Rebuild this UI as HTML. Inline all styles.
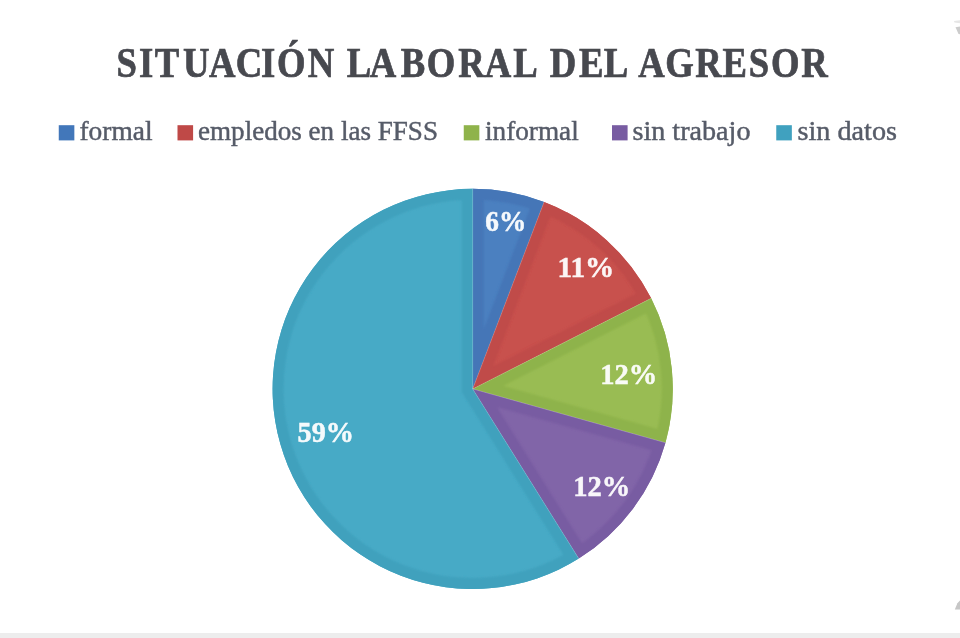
<!DOCTYPE html>
<html lang="es"><head><meta charset="utf-8"><title>Situación laboral del agresor</title>
<style>
html,body{margin:0;padding:0;background:#fff;}
body{width:960px;height:638px;overflow:hidden;position:relative;font-family:"Liberation Serif",serif;}
svg{position:absolute;left:0;top:0;display:block;}
.tt{font-family:"Liberation Serif",serif;font-weight:bold;font-size:41.7px;fill:#47484f;stroke:#47484f;stroke-width:0.7px;}
.lg{font-family:"Liberation Serif",serif;font-size:27.5px;fill:#565b68;stroke:#565b68;stroke-width:0.45px;}
.dl{font-family:"Liberation Serif",serif;font-weight:bold;font-size:28.5px;fill:#fff;stroke:#fff;stroke-width:0.5px;opacity:0.95;}
.bar{position:absolute;left:0;top:633px;width:960px;height:5px;background:#ededed;}
</style></head><body>
<svg width="960" height="638" viewBox="0 0 960 638">
<defs>
<filter id="b2" filterUnits="userSpaceOnUse" x="240" y="160" width="470" height="460"><feGaussianBlur stdDeviation="1.2"/></filter>
<filter id="bl" x="-5%" y="-5%" width="110%" height="110%"><feGaussianBlur stdDeviation="0.75"/></filter>
<clipPath id="c0"><path d="M472.70,388.90 L472.70,188.80 A200.10,200.10 0 0 1 544.08,201.97 Z"/></clipPath>
<clipPath id="c1"><path d="M472.70,388.90 L544.08,201.97 A200.10,200.10 0 0 1 651.15,298.37 Z"/></clipPath>
<clipPath id="c2"><path d="M472.70,388.90 L651.15,298.37 A200.10,200.10 0 0 1 665.43,442.71 Z"/></clipPath>
<clipPath id="c3"><path d="M472.70,388.90 L665.43,442.71 A200.10,200.10 0 0 1 578.74,558.59 Z"/></clipPath>
<clipPath id="c4"><path d="M472.70,388.90 L578.74,558.59 A200.10,200.10 0 1 1 472.70,188.80 Z"/></clipPath>
</defs>
<g filter="url(#bl)">
<text class="tt" text-anchor="middle" transform="scale(0.88,1)" y="77" x="143.86 166.02 189.66 223.01 252.61 283.07 304.66 330.97 364.66 386.36 408.07 435.34 469.43 501.14 535.91 566.02 597.27 618.18 639.89 671.88 699.89 719.32 740.45 772.05 805.00 834.89 862.50 892.39 925.45">SITUACIÓN LABORAL DEL AGRESOR</text>
<rect x="58.75" y="125.2" width="15.6" height="15.2" fill="#4377ba"/>
<text x="79.5" y="140.2" class="lg" textLength="73.0" lengthAdjust="spacingAndGlyphs">formal</text>
<rect x="177.5" y="125.2" width="15.6" height="15.2" fill="#bf4847"/>
<text x="198" y="140.2" class="lg" textLength="240" lengthAdjust="spacingAndGlyphs">empledos en las FFSS</text>
<rect x="463.75" y="125.2" width="15.6" height="15.2" fill="#8fb34c"/>
<text x="485" y="140.2" class="lg" textLength="93.75" lengthAdjust="spacingAndGlyphs">informal</text>
<rect x="612" y="125.2" width="15.6" height="15.2" fill="#785ca2"/>
<text x="632.5" y="140.2" class="lg" textLength="118.0" lengthAdjust="spacingAndGlyphs">sin trabajo</text>
<rect x="776.25" y="125.2" width="15.6" height="15.2" fill="#40a1bf"/>
<text x="797.5" y="140.2" class="lg" textLength="99.5" lengthAdjust="spacingAndGlyphs">sin datos</text>
<path d="M472.70,388.90 L472.70,188.80 A200.10,200.10 0 0 1 544.08,201.97 Z" fill="#4b80c0"/>
<path d="M472.70,388.90 L472.70,188.80 A200.10,200.10 0 0 1 544.08,201.97 Z" fill="none" stroke="#4476b7" stroke-width="22.0" stroke-linejoin="miter" stroke-miterlimit="20" filter="url(#b2)" clip-path="url(#c0)"/>
<path d="M472.70,388.90 L544.08,201.97 A200.10,200.10 0 0 1 651.15,298.37 Z" fill="#c8514d"/>
<path d="M472.70,388.90 L544.08,201.97 A200.10,200.10 0 0 1 651.15,298.37 Z" fill="none" stroke="#c04b4a" stroke-width="22.0" stroke-linejoin="miter" stroke-miterlimit="20" filter="url(#b2)" clip-path="url(#c1)"/>
<path d="M472.70,388.90 L651.15,298.37 A200.10,200.10 0 0 1 665.43,442.71 Z" fill="#99bc53"/>
<path d="M472.70,388.90 L651.15,298.37 A200.10,200.10 0 0 1 665.43,442.71 Z" fill="none" stroke="#8eb34b" stroke-width="22.0" stroke-linejoin="miter" stroke-miterlimit="20" filter="url(#b2)" clip-path="url(#c2)"/>
<path d="M472.70,388.90 L665.43,442.71 A200.10,200.10 0 0 1 578.74,558.59 Z" fill="#8165a8"/>
<path d="M472.70,388.90 L665.43,442.71 A200.10,200.10 0 0 1 578.74,558.59 Z" fill="none" stroke="#785ca2" stroke-width="22.0" stroke-linejoin="miter" stroke-miterlimit="20" filter="url(#b2)" clip-path="url(#c3)"/>
<path d="M472.70,388.90 L578.74,558.59 A200.10,200.10 0 1 1 472.70,188.80 Z" fill="#47aac6"/>
<path d="M472.70,388.90 L578.74,558.59 A200.10,200.10 0 1 1 472.70,188.80 Z" fill="none" stroke="#41a1bd" stroke-width="22.0" stroke-linejoin="miter" stroke-miterlimit="20" filter="url(#b2)" clip-path="url(#c4)"/>
<line x1="472.7" y1="388.9" x2="472.70" y2="188.80" stroke="#fff" stroke-opacity="0.18" stroke-width="1"/>
<line x1="472.7" y1="388.9" x2="544.08" y2="201.97" stroke="#fff" stroke-opacity="0.18" stroke-width="1"/>
<line x1="472.7" y1="388.9" x2="651.15" y2="298.37" stroke="#fff" stroke-opacity="0.18" stroke-width="1"/>
<line x1="472.7" y1="388.9" x2="665.43" y2="442.71" stroke="#fff" stroke-opacity="0.18" stroke-width="1"/>
<line x1="472.7" y1="388.9" x2="578.74" y2="558.59" stroke="#fff" stroke-opacity="0.18" stroke-width="1"/>
<text x="485.3" y="231.0" class="dl" textLength="40.99999999999994" lengthAdjust="spacingAndGlyphs">6%</text>
<text x="557.5" y="276.8" class="dl" textLength="56.799999999999955" lengthAdjust="spacingAndGlyphs">11%</text>
<text x="600.3" y="384.0" class="dl" textLength="57.0" lengthAdjust="spacingAndGlyphs">12%</text>
<text x="573.2" y="496.0" class="dl" textLength="57.0" lengthAdjust="spacingAndGlyphs">12%</text>
<text x="297.6" y="442.0" class="dl" textLength="56.39999999999998" lengthAdjust="spacingAndGlyphs">59%</text>
<path d="M955.5,27.2 L960,26.4 L960,34.5 L958.2,33.2 Z" fill="#cccccc"/>
<path d="M954,21 L960,20.2 L960,23.2 L954.5,22.6 Z" fill="#e6e6e6"/>
<path d="M954.8,609.6 L957.4,603.2 L960,600.4 L960,609.6 Z" fill="#c6c6c6"/>
</g>
</svg>
<div class="bar"></div>
</body></html>
